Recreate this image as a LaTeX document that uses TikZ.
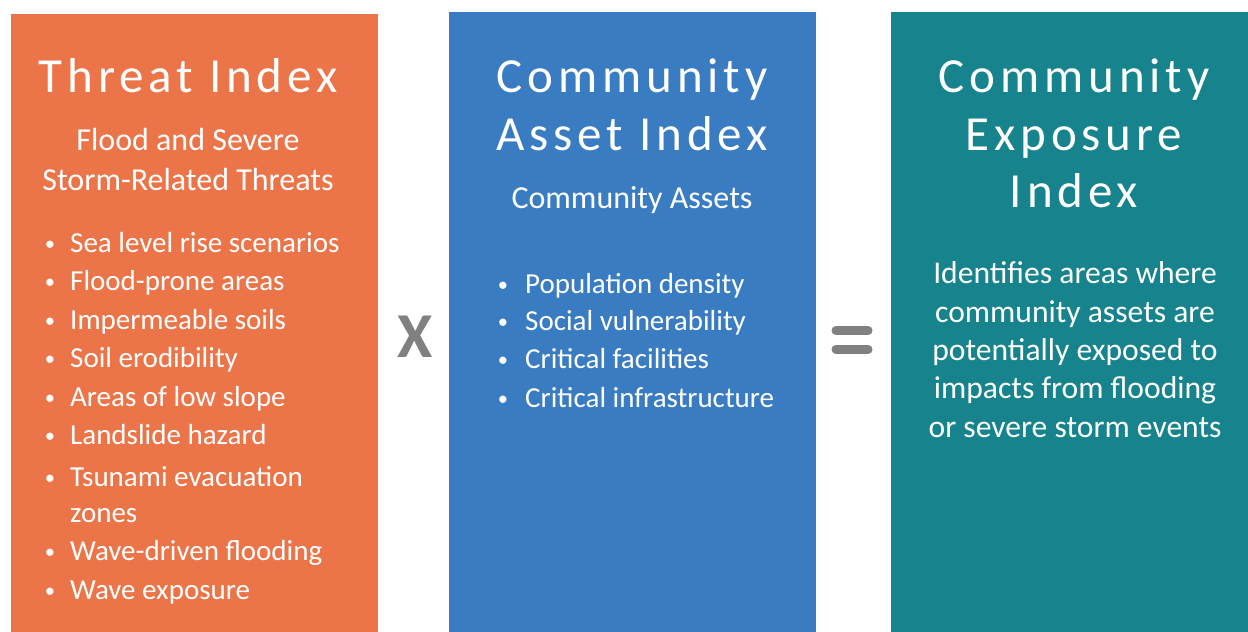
\documentclass[tikz,border=0pt]{standalone}
\usepackage{fontspec}
\setmainfont{Carlito}
\newfontfamily\titlefont[LetterSpace=10]{Carlito}
\definecolor{orangebox}{HTML}{EB7548}
\definecolor{bluebox}{HTML}{3A7CC1}
\definecolor{tealbox}{HTML}{17838C}
\definecolor{opgray}{HTML}{808080}
\tikzset{
  box/.style={fill=#1, inner sep=0pt, outer sep=0pt, anchor=north west},
  ttl/.style={text=white, inner sep=0pt, anchor=base, font=\titlefont\fontsize{49}{58}\selectfont},
  sub/.style={text=white, inner sep=0pt, anchor=base, font=\fontsize{32}{38}\selectfont},
  para/.style={text=white, inner sep=0pt, anchor=base, font=\fontsize{31.6}{38}\selectfont},
  bul/.style={text=white, inner sep=0pt, anchor=base west, font=\fontsize{29}{38}\selectfont},
  dot/.style={text=white, inner sep=0pt, anchor=base, font=\fontsize{20.5}{24}\selectfont},
  op/.style={text=opgray, inner sep=0pt, anchor=base, font=\bfseries\fontsize{64}{70}\selectfont},
  bar/.style={draw=opgray, line width=9pt, line cap=round}
}
\begin{document}
\begin{tikzpicture}[x=1pt,y=-1pt]
\useasboundingbox (0,0) rectangle (1248,632);
% boxes
\node[box=orangebox, minimum width=367pt, minimum height=618pt] (threat) at (11,14) {};
\node[box=bluebox, minimum width=367pt, minimum height=620pt] (asset) at (449,12) {};
\node[box=tealbox, minimum width=357pt, minimum height=620pt] (expo) at (891,12) {};
% threat index
\node[ttl] (t0) at (188,92) {Threat Index};
\node[sub] (ts1) at (188,150) {Flood and Severe};
\node[sub] (ts2) at (188,190) {Storm-Related Threats};
\foreach \n/\y/\t in {1/252/Sea level rise scenarios, 2/290/Flood-prone areas, 3/329/Impermeable soils, 4/367/Soil erodibility, 5/406/Areas of low slope, 6/444/Landslide hazard, 7/486/Tsunami evacuation, 9/560/Wave-driven flooding, 10/599/Wave exposure}{
  \node[dot] (td\n) at (50,\y-1.6) {•};
  \node[bul] (tb\n) at (70,\y) {\t};
}
\node[bul] (tb8) at (70,522) {zones};
% asset index
\node[ttl] (a1) at (632,92) {Community};
\node[ttl] (a2) at (632,150) {Asset Index};
\node[sub] (as) at (632,208) {Community Assets};
\foreach \n/\y/\t in {1/293/Population density, 2/330/Social vulnerability, 3/368/Critical facilities, 4/407/Critical infrastructure}{
  \node[dot] (ad\n) at (503,\y-1.6) {•};
  \node[bul] (ab\n) at (525,\y) {\t};
}
% exposure index
\node[ttl] (e1) at (1074,92) {Community};
\node[ttl] (e2) at (1074,150) {Exposure};
\node[ttl] (e3) at (1074,207) {Index};
\foreach \n/\y/\t in {1/283/Identifies areas where, 2/322/community assets are, 3/360/potentially exposed to, 4/398/impacts from flooding, 5/437/or severe storm events}{
  \node[para] (ep\n) at (1075,\y) {\t};
}
% operators
\node[op] (times) at (415,357) {X};
\coordinate (eqa) at (836,330.5);
\coordinate (eqb) at (868,330.5);
\coordinate (eqc) at (836,349.5);
\coordinate (eqd) at (868,349.5);
\draw[bar] (eqa) -- (eqb);
\draw[bar] (eqc) -- (eqd);
\end{tikzpicture}
\end{document}
